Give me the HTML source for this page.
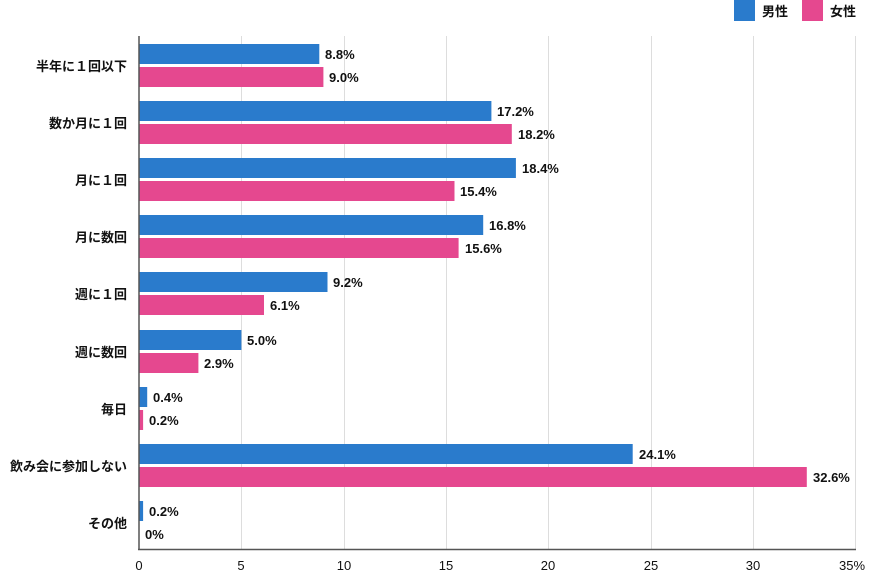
<!DOCTYPE html><html><head><meta charset="utf-8"><style>body{margin:0;background:#fff}text{font-family:"Liberation Sans","Noto Sans CJK JP",sans-serif;font-size:13px;fill:#111;font-weight:bold}text.n{font-weight:normal}</style></head><body>
<svg width="870" height="576" xmlns="http://www.w3.org/2000/svg">
<rect x="734" y="0" width="21" height="21" fill="#2a7bcc"/><text x="762" y="16">男性</text>
<rect x="802" y="0" width="21" height="21" fill="#e5488f"/><text x="830" y="16">女性</text>
<g stroke="#ddd" stroke-width="1">
<line x1="241.5" y1="36" x2="241.5" y2="550"/><line x1="344.5" y1="36" x2="344.5" y2="550"/><line x1="446.5" y1="36" x2="446.5" y2="550"/><line x1="548.5" y1="36" x2="548.5" y2="550"/><line x1="651.5" y1="36" x2="651.5" y2="550"/><line x1="753.5" y1="36" x2="753.5" y2="550"/><line x1="855.5" y1="36" x2="855.5" y2="550"/>
</g>
<g>
<rect x="139" y="44" width="180.3" height="20" fill="#2a7bcc"/><text x="325" y="59">8.8%</text>
<rect x="139" y="67" width="184.4" height="20" fill="#e5488f"/><text x="329" y="82">9.0%</text>
<text x="127" y="71" text-anchor="end">半年に１回以下</text>

<rect x="139" y="101" width="352.4" height="20" fill="#2a7bcc"/><text x="497" y="116">17.2%</text>
<rect x="139" y="124" width="372.8" height="20" fill="#e5488f"/><text x="518" y="139">18.2%</text>
<text x="127" y="128" text-anchor="end">数か月に１回</text>

<rect x="139" y="158" width="376.9" height="20" fill="#2a7bcc"/><text x="522" y="173">18.4%</text>
<rect x="139" y="181" width="315.5" height="20" fill="#e5488f"/><text x="460" y="196">15.4%</text>
<text x="127" y="185" text-anchor="end">月に１回</text>

<rect x="139" y="215" width="344.2" height="20" fill="#2a7bcc"/><text x="489" y="230">16.8%</text>
<rect x="139" y="238" width="319.6" height="20" fill="#e5488f"/><text x="465" y="253">15.6%</text>
<text x="127" y="242" text-anchor="end">月に数回</text>

<rect x="139" y="272" width="188.5" height="20" fill="#2a7bcc"/><text x="333" y="287">9.2%</text>
<rect x="139" y="295" width="125.0" height="20" fill="#e5488f"/><text x="270" y="310">6.1%</text>
<text x="127" y="299" text-anchor="end">週に１回</text>

<rect x="139" y="330" width="102.4" height="20" fill="#2a7bcc"/><text x="247" y="345">5.0%</text>
<rect x="139" y="353" width="59.4" height="20" fill="#e5488f"/><text x="204" y="368">2.9%</text>
<text x="127" y="357" text-anchor="end">週に数回</text>

<rect x="139" y="387" width="8.2" height="20" fill="#2a7bcc"/><text x="153" y="402">0.4%</text>
<rect x="139" y="410" width="4.1" height="20" fill="#e5488f"/><text x="149" y="425">0.2%</text>
<text x="127" y="414" text-anchor="end">毎日</text>

<rect x="139" y="444" width="493.7" height="20" fill="#2a7bcc"/><text x="639" y="459">24.1%</text>
<rect x="139" y="467" width="667.8" height="20" fill="#e5488f"/><text x="813" y="482">32.6%</text>
<text x="127" y="471" text-anchor="end">飲み会に参加しない</text>

<rect x="139" y="501" width="4.1" height="20" fill="#2a7bcc"/><text x="149" y="516">0.2%</text>
<text x="145" y="539">0%</text>
<text x="127" y="528" text-anchor="end">その他</text>
</g>
<line x1="139" y1="36" x2="139" y2="550" stroke="#555" stroke-width="1.5"/>
<line x1="138" y1="549.5" x2="856" y2="549.5" stroke="#555" stroke-width="1.5"/>
<g text-anchor="middle">
<text class="n" x="139" y="570">0</text><text class="n" x="241" y="570">5</text><text class="n" x="344" y="570">10</text><text class="n" x="446" y="570">15</text><text class="n" x="548" y="570">20</text><text class="n" x="651" y="570">25</text><text class="n" x="753" y="570">30</text><text class="n" x="852" y="570">35%</text>
</g>
</svg></body></html>
